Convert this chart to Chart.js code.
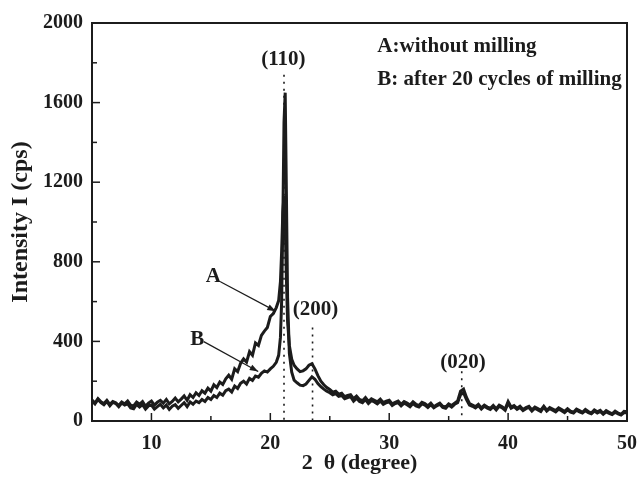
<!DOCTYPE html>
<html>
<head>
<meta charset="utf-8">
<script src="https://cdn.jsdelivr.net/npm/chart.js@4"></script>
<style>
  html, body { margin: 0; padding: 0; background: #fff; }
  #wrap { width: 641px; height: 477px; }
</style>
</head>
<body>
<div id="wrap"><canvas id="xrdChart" width="641" height="477"></canvas></div>
<script>
// 2 theta (degree)
const twoTheta = [
    5, 5.25, 5.5, 5.75, 6, 6.25, 6.5, 6.75, 7, 7.25, 7.5, 7.75,
    8, 8.25, 8.5, 8.75, 9, 9.25, 9.5, 9.75, 10, 10.25, 10.5, 10.75,
    11, 11.25, 11.5, 11.75, 12, 12.25, 12.5, 12.75, 13, 13.25, 13.5, 13.75,
    14, 14.25, 14.5, 14.75, 15, 15.25, 15.5, 15.75, 16, 16.25, 16.5, 16.75,
    17, 17.25, 17.5, 17.75, 18, 18.25, 18.5, 18.75, 19, 19.25, 19.5, 19.75,
    20,
    20.25, 20.5, 20.7, 20.85, 20.95, 21.05, 21.15, 21.25, 21.35, 21.45, 21.6, 21.8, 22,
    22.25, 22.5, 22.75,
    23, 23.25, 23.5, 23.75, 24, 24.25, 24.5, 24.75, 25, 25.25, 25.5, 25.75,
    26, 26.25, 26.5, 26.75, 27, 27.25, 27.5, 27.75, 28, 28.25, 28.5, 28.75,
    29, 29.25, 29.5, 29.75, 30, 30.25, 30.5, 30.75, 31, 31.25, 31.5, 31.75,
    32, 32.25, 32.5, 32.75, 33, 33.25, 33.5, 33.75, 34, 34.25, 34.5, 34.75,
    35, 35.25, 35.5, 35.75, 36, 36.25, 36.5, 36.75, 37, 37.25, 37.5, 37.75,
    38, 38.25, 38.5, 38.75, 39, 39.25, 39.5, 39.75, 40, 40.25, 40.5, 40.75,
    41, 41.25, 41.5, 41.75, 42, 42.25, 42.5, 42.75, 43, 43.25, 43.5, 43.75,
    44, 44.25, 44.5, 44.75, 45, 45.25, 45.5, 45.75, 46, 46.25, 46.5, 46.75,
    47, 47.25, 47.5, 47.75, 48, 48.25, 48.5, 48.75, 49, 49.25, 49.5, 49.75,
    50
];

// A: without milling (cps)
const intensityA = [
    105, 90, 112, 96, 88, 104, 84, 98, 92, 78, 96, 86,
    100, 80, 76, 95, 84, 98, 74, 90, 100, 80, 94, 104,
    90, 108, 86, 98, 115, 96, 110, 126, 104, 132, 118, 142,
    128, 152, 140, 165, 150, 182, 168, 196, 184, 212, 230, 210,
    262, 248, 290, 312, 296, 348, 330, 392, 380, 430, 452, 470,
    525,
    540, 570, 605, 700, 850, 1050, 1130, 980, 720, 500, 380, 310, 280,
    262, 248, 252,
    262, 280, 288, 262, 228, 200, 182, 168, 158, 145, 150, 135,
    140, 122, 128, 132, 112, 125, 108, 102, 118, 98, 112, 104,
    96, 110, 92, 100, 104, 86, 94, 100, 84, 98, 90, 80,
    96, 84, 78, 94, 88, 76, 90, 72, 82, 90, 74, 70,
    86, 78, 90, 100, 150, 160, 118, 88, 80, 72, 84, 66,
    80, 70, 64, 78, 62, 80, 72, 60, 98, 70, 78, 64,
    74, 58, 68, 74, 56, 70, 62, 54, 74, 54, 68, 60,
    52, 66, 58, 48, 62, 50, 44, 60, 52, 44, 58, 48,
    40, 56, 46, 54, 38, 52, 44, 36, 50, 40, 34, 48,
    46
];

// B: after 20 cycles of milling (cps)
const intensityB = [
    102, 86, 108, 92, 82, 98, 76, 94, 88, 72, 90, 80,
    86, 66, 62, 84, 70, 82, 60, 76, 80, 60, 72, 84,
    66, 80, 58, 74, 82, 64, 78, 92, 72, 96, 84, 100,
    92, 108, 98, 118, 108, 128, 118, 140, 130, 152, 160, 146,
    176, 164, 190, 200, 186, 214, 204, 226, 220, 240, 252, 246,
    262,
    275, 295, 330, 420, 600, 1000, 1500, 1650, 1150, 620, 340, 245, 205,
    192, 180, 178,
    186, 204, 222, 210, 188, 172, 160, 150, 142, 132, 138, 124,
    128, 112, 118, 122, 100, 114, 98, 92, 108, 88, 102, 96,
    86, 100, 84, 92, 96, 78, 88, 92, 76, 90, 82, 72,
    88, 76, 70, 86, 80, 68, 82, 66, 76, 84, 68, 64,
    80, 70, 84, 92, 132, 142, 108, 80, 74, 66, 78, 60,
    74, 64, 58, 72, 56, 74, 66, 54, 90, 64, 72, 58,
    68, 52, 62, 68, 50, 64, 56, 48, 70, 50, 62, 54,
    46, 60, 52, 42, 56, 44, 40, 54, 46, 40, 52, 42,
    36, 50, 40, 48, 34, 46, 38, 32, 44, 36, 30, 42,
    42
];

const yTickStep = 200;
const yLabelStep = 400;
const xTickStep = 5;
const xLabelStep = 10;

// peak markers: position, top of the dotted line, label
const peakPos = [21.15, 23.55, 36.1];
const peakTop = [1740, 470, 250];
const peakNames = ['(110)', '(200)', '(020)'];
const peakLabelAt = [[21.1, 1815], [23.8, 560], [36.2, 294]];

const legendLines = ['A:without milling', 'B: after 20 cycles of milling'];

const ink = '#1c1c1c';
const serif = "'Liberation Serif', 'Times New Roman', serif";

const xrdDecor = {
    id: 'xrdDecor',
    afterDatasetsDraw(chart) {
        const ctx = chart.ctx;
        const area = chart.chartArea;
        const xs = chart.scales.x;
        const ys = chart.scales.y;
        ctx.save();

        // frame
        ctx.strokeStyle = ink;
        ctx.lineWidth = 2;
        ctx.strokeRect(area.left, area.top, area.right - area.left, area.bottom - area.top);

        // inward ticks
        ctx.lineWidth = 1.5;
        ys.ticks.forEach(t => {
            const y = ys.getPixelForValue(t.value);
            const len = t.value % yLabelStep === 0 ? 8 : 5;
            ctx.beginPath();
            ctx.moveTo(area.left, y);
            ctx.lineTo(area.left + len, y);
            ctx.stroke();
        });
        xs.ticks.forEach(t => {
            const x = xs.getPixelForValue(t.value);
            const len = t.value % xLabelStep === 0 ? 8 : 5;
            ctx.beginPath();
            ctx.moveTo(x, area.bottom);
            ctx.lineTo(x, area.bottom - len);
            ctx.stroke();
        });

        // dotted peak lines
        ctx.setLineDash([2, 5]);
        ctx.lineWidth = 1.6;
        peakPos.forEach((p, i) => {
            const x = xs.getPixelForValue(p);
            ctx.beginPath();
            ctx.moveTo(x, ys.getPixelForValue(peakTop[i]));
            ctx.lineTo(x, ys.getPixelForValue(0));
            ctx.stroke();
        });
        ctx.setLineDash([]);

        ctx.fillStyle = ink;
        ctx.font = 'bold 21px ' + serif;
        ctx.textAlign = 'center';
        ctx.textBaseline = 'middle';
        peakNames.forEach((n, i) => {
            ctx.fillText(n, xs.getPixelForValue(peakLabelAt[i][0]), ys.getPixelForValue(peakLabelAt[i][1]));
        });

        // legend text
        ctx.textAlign = 'left';
        ctx.fillText(legendLines[0], xs.getPixelForValue(29.0), ys.getPixelForValue(1880));
        ctx.fillText(legendLines[1], xs.getPixelForValue(29.0), ys.getPixelForValue(1714));

        // curve labels with arrows
        ctx.textAlign = 'center';
        ctx.fillText('A', xs.getPixelForValue(15.2), ys.getPixelForValue(725));
        ctx.fillText('B', xs.getPixelForValue(13.85), ys.getPixelForValue(409));
        drawArrow(ctx, xs.getPixelForValue(15.8), ys.getPixelForValue(700), xs.getPixelForValue(20.45), ys.getPixelForValue(552));
        drawArrow(ctx, xs.getPixelForValue(14.4), ys.getPixelForValue(399), xs.getPixelForValue(18.98), ys.getPixelForValue(249));

        ctx.restore();
    }
};

function drawArrow(ctx, x1, y1, x2, y2) {
    const ang = Math.atan2(y2 - y1, x2 - x1);
    ctx.lineWidth = 1.2;
    ctx.beginPath();
    ctx.moveTo(x1, y1);
    ctx.lineTo(x2, y2);
    ctx.stroke();
    ctx.beginPath();
    ctx.moveTo(x2, y2);
    ctx.lineTo(x2 - 9 * Math.cos(ang - 0.35), y2 - 9 * Math.sin(ang - 0.35));
    ctx.lineTo(x2 - 9 * Math.cos(ang + 0.35), y2 - 9 * Math.sin(ang + 0.35));
    ctx.closePath();
    ctx.fill();
}

new Chart(document.getElementById('xrdChart'), {
    type: 'line',
    data: {
        datasets: [{
            label: 'A',
            data: twoTheta.map((x, i) => ({ x: x, y: intensityA[i] })),
            borderColor: ink,
            borderWidth: 3,
            pointRadius: 0,
            tension: 0
        }, {
            label: 'B',
            data: twoTheta.map((x, i) => ({ x: x, y: intensityB[i] })),
            borderColor: ink,
            borderWidth: 3,
            pointRadius: 0,
            tension: 0
        }]
    },
    options: {
        responsive: false,
        animation: false,
        layout: { padding: { left: 0, right: 14, top: 23, bottom: 0 } },
        plugins: {
            legend: { display: false },
            tooltip: { enabled: false }
        },
        scales: {
            x: {
                type: 'linear',
                min: 5,
                max: 50,
                afterFit: s => { s.height = 56; },
                grid: { display: false },
                border: { display: false },
                ticks: {
                    stepSize: xTickStep,
                    padding: 3,
                    color: ink,
                    font: { family: serif, size: 20, weight: 'bold' },
                    maxRotation: 0,
                    callback: v => (v % xLabelStep === 0 ? v : '')
                },
                title: {
                    display: true,
                    text: '2  θ (degree)',
                    color: ink,
                    font: { family: serif, size: 22, weight: 'bold' },
                    padding: 0
                }
            },
            y: {
                min: 0,
                max: 2000,
                afterFit: s => { s.width = 92; },
                grid: { display: false },
                border: { display: false },
                ticks: {
                    stepSize: yTickStep,
                    padding: 1,
                    color: ink,
                    font: { family: serif, size: 20, weight: 'bold' },
                    callback: v => (v % yLabelStep === 0 ? v : '')
                },
                title: {
                    display: true,
                    text: 'Intensity I (cps)',
                    color: ink,
                    font: { family: serif, size: 24, weight: 'bold' },
                    padding: { top: 6, bottom: 0 }
                }
            }
        }
    },
    plugins: [xrdDecor]
});
</script>
</body>
</html>
